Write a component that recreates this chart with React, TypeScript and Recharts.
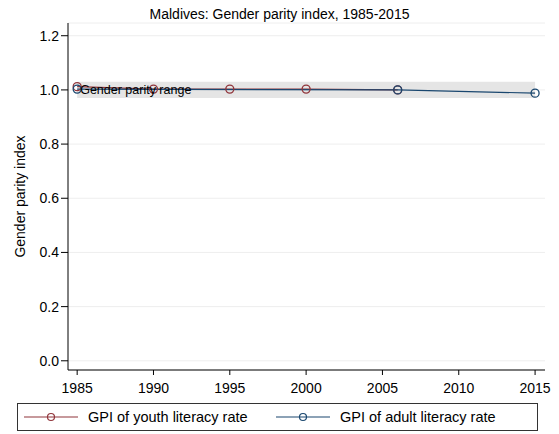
import { LineChart, Line, XAxis, YAxis, CartesianGrid, ReferenceArea, Legend } from 'recharts'

const xTicks = [1985, 1990, 1995, 2000, 2005, 2010, 2015]
const yTicks = [0, 0.2, 0.4, 0.6, 0.8, 1.0, 1.2]

const youthYears = [1985, 1990, 1995, 2000, 2006]
const youthGpi = [1.012, 1.003, 1.003, 1.003, 1.0]

const adultYears = [1985, 2006, 2015]
const adultGpi = [1.003, 1.0, 0.988]

const parityLow = 0.97
const parityHigh = 1.03

const youthData = youthYears.map((year, i) => ({ year, gpi: youthGpi[i] }))
const adultData = adultYears.map((year, i) => ({ year, gpi: adultGpi[i] }))

const FONT = '"Liberation Sans", Arial, sans-serif'
const RED = '#90353b'
const BLUE = '#1a476f'

const series = [
  { name: 'GPI of youth literacy rate', color: RED },
  { name: 'GPI of adult literacy rate', color: BLUE },
]

function LegendBox() {
  return (
    <div
      style={{
        width: 519,
        height: 26,
        border: '1px solid #333',
        display: 'flex',
        alignItems: 'center',
        fontFamily: FONT,
        fontSize: 14.5,
        color: '#000',
        boxSizing: 'content-box',
      }}
    >
      {series.map((s) => (
        <div key={s.name} style={{ display: 'flex', alignItems: 'center', width: 252 }}>
          <svg width={64} height={12} style={{ marginLeft: 6 }}>
            <line x1={0} x2={54} y1={6} y2={6} stroke={s.color} strokeWidth={1.2} />
            <circle cx={27} cy={6} r={3.5} fill="none" stroke={s.color} strokeWidth={1.2} />
          </svg>
          <span>{s.name}</span>
        </div>
      ))}
    </div>
  )
}

export default function App() {
  return (
    <div style={{ position: 'absolute', left: 0, top: 0, width: 559, height: 434, background: '#fff' }}>
      <div
        style={{
          position: 'absolute',
          top: 6,
          left: 0,
          width: 559,
          textAlign: 'center',
          fontFamily: FONT,
          fontSize: 14,
          lineHeight: '17px',
        }}
      >
        Maldives: Gender parity index, 1985-2015
      </div>
      <LineChart
        width={559}
        height={434}
        margin={{ top: 23, right: 14, bottom: 34, left: 0 }}
        style={{ fontFamily: FONT }}
      >
        <CartesianGrid horizontal vertical={false} stroke="#eeeeee" />
        <ReferenceArea
          x1={1985}
          x2={2015}
          y1={parityLow}
          y2={parityHigh}
          fill="#e5e5e5"
          fillOpacity={1}
          stroke="none"
          ifOverflow="visible"
          label={{ value: 'Gender parity range', position: 'insideLeft', offset: 3, fill: '#000', fontSize: 12.5 }}
        />
        <XAxis
          dataKey="year"
          type="number"
          domain={[1984.4, 2015.65]}
          ticks={xTicks}
          allowDuplicatedCategory={false}
          stroke="#000"
          tick={{ fill: '#000', fontSize: 14, dy: 5 }}
          tickSize={5}
          tickMargin={3}
          height={30}
        />
        <YAxis
          type="number"
          domain={[-0.034, 1.247]}
          ticks={yTicks}
          tickFormatter={(v: number) => v.toFixed(1)}
          stroke="#000"
          tick={{ fill: '#000', fontSize: 14 }}
          tickSize={7}
          tickMargin={2}
          width={68}
          label={{
            value: 'Gender parity index',
            angle: -90,
            position: 'insideLeft',
            offset: 20,
            fill: '#000',
            fontSize: 14,
            style: { textAnchor: 'middle' },
          }}
        />
        <Legend
          layout="vertical"
          align="center"
          verticalAlign="middle"
          wrapperStyle={{ left: 17, top: 403, width: 521, height: 28 }}
          content={() => <LegendBox />}
        />
        <Line
          data={youthData}
          dataKey="gpi"
          name={series[0].name}
          stroke={RED}
          strokeWidth={1.2}
          dot={{ r: 4, fill: 'none', stroke: RED, strokeWidth: 1.3 }}
          activeDot={false}
          isAnimationActive={false}
        />
        <Line
          data={adultData}
          dataKey="gpi"
          name={series[1].name}
          stroke={BLUE}
          strokeWidth={1.2}
          dot={{ r: 4, fill: 'none', stroke: BLUE, strokeWidth: 1.3 }}
          activeDot={false}
          isAnimationActive={false}
        />
      </LineChart>
    </div>
  )
}
